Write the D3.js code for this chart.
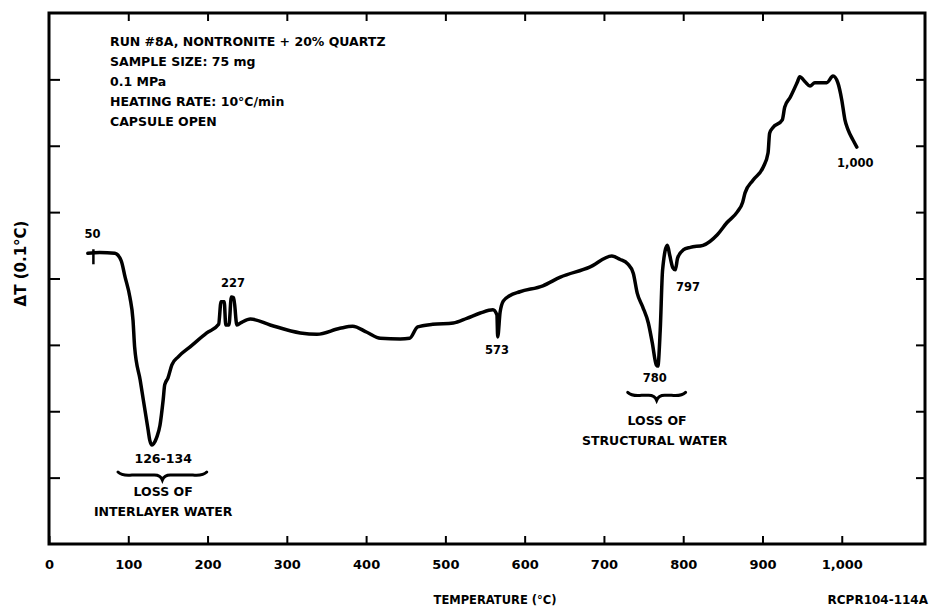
<!DOCTYPE html>
<html>
<head>
<meta charset="utf-8">
<script src="https://cdn.jsdelivr.net/npm/d3@7"></script>
<style>
  body { margin: 0; background: #fff; }
  svg text { font-family: "DejaVu Sans", "Liberation Sans", Arial, sans-serif; font-weight: bold; fill: #000; }
</style>
</head>
<body>
<div id="chart"></div>
<script>
// DTA trace, temperature (°C) vs ΔT in tick units (ticks unlabeled)
const temps = [49, 64, 83, 91, 96, 102, 106, 108, 115, 119, 125, 127, 130, 132, 136, 140, 144, 146, 150, 155,
  163, 178, 199, 214, 217, 221, 223, 227, 230, 233, 237, 243, 254, 279, 317, 338, 367, 383, 401, 418,
  443, 455, 465, 484, 510, 527, 544, 560, 565, 566, 569, 573, 581, 594, 623, 645, 682, 710, 720, 730,
  737, 742, 749, 756, 761, 766, 768, 771, 774, 780, 783, 787, 790, 793, 800, 809, 825, 843, 855, 868,
  875, 878, 888, 901, 907, 909, 913, 925, 928, 935, 944, 947, 954, 960, 966, 981, 989, 995, 1000, 1004,
  1008, 1014, 1019];
const deltaT = [4.38, 4.39, 4.38, 4.27, 4.02, 3.72, 3.37, 2.97, 2.47, 2.17, 1.72, 1.57, 1.49, 1.51, 1.61, 1.79, 2.17, 2.40, 2.50, 2.70,
  2.82, 2.97, 3.18, 3.31, 3.65, 3.65, 3.30, 3.30, 3.72, 3.71, 3.30, 3.34, 3.39, 3.30, 3.18, 3.16, 3.25, 3.28, 3.19, 3.10,
  3.09, 3.10, 3.27, 3.31, 3.33, 3.40, 3.48, 3.53, 3.45, 3.12, 3.49, 3.66, 3.74, 3.80, 3.89, 4.02, 4.17, 4.34, 4.29, 4.22,
  4.08, 3.78, 3.57, 3.33, 3.03, 2.70, 2.68, 3.22, 4.13, 4.50, 4.35, 4.16, 4.13, 4.31, 4.43, 4.47, 4.50, 4.66, 4.84, 5.00,
  5.15, 5.29, 5.48, 5.68, 5.89, 6.19, 6.27, 6.39, 6.58, 6.73, 6.96, 7.04, 6.96, 6.90, 6.95, 6.95, 7.05, 6.95, 6.69, 6.39,
  6.24, 6.09, 5.98];

const xTicks = [0, 100, 200, 300, 400, 500, 600, 700, 800, 900, 1000];
const yTicks = [1, 2, 3, 4, 5, 6, 7];

const infoLines = ["RUN #8A, NONTRONITE + 20% QUARTZ", "SAMPLE SIZE: 75 mg", "0.1 MPa",
  "HEATING RATE: 10°C/min", "CAPSULE OPEN"];

// peak labels: [temp, deltaT, text]
const peakLabels = [[55, 4.66, "50"], [232, 3.93, "227"], [565, 2.92, "573"],
  [764, 2.49, "780"], [806, 3.87, "797"], [1017, 5.74, "1,000"]];
const braceLabels = [[144, 1.27, "126-134"], [144, 0.77, "LOSS OF"], [144, 0.47, "INTERLAYER WATER"],
  [767, 1.84, "LOSS OF"], [764, 1.55, "STRUCTURAL WATER"]];
// braces: [tStart, tEnd, deltaT]
const braces = [[87, 199, 1.04], [730, 803, 2.24]];
const startMark = [56, 4.38];

const width = 931, height = 611;
const margin = {top: 13, right: 6, bottom: 67, left: 49};

const svg = d3.select("#chart").append("svg")
  .attr("width", width).attr("height", height);

const x = d3.scaleLinear().domain([0, 1105]).range([margin.left, width - margin.right]);
const y = d3.scaleLinear().domain([0, 8]).range([height - margin.bottom, margin.top]);

// axes, ticks point inward
svg.append("g").attr("transform", `translate(0,${y(0)})`)
  .call(d3.axisBottom(x).tickValues(xTicks).tickFormat(d3.format(",")).tickSize(-8).tickSizeOuter(0).tickPadding(16))
  .call(g => g.selectAll("text").style("font-size", "13px"));
svg.append("g").attr("transform", `translate(0,${y(8)})`)
  .call(d3.axisTop(x).tickValues(xTicks.slice(1)).tickFormat("").tickSize(-8).tickSizeOuter(0));
svg.append("g").attr("transform", `translate(${x(0)},0)`)
  .call(d3.axisLeft(y).tickValues(yTicks).tickFormat("").tickSize(-11).tickSizeOuter(0));
svg.append("g").attr("transform", `translate(${x(1105)},0)`)
  .call(d3.axisRight(y).tickValues(yTicks).tickFormat("").tickSize(-9).tickSizeOuter(0));
svg.selectAll(".domain").remove();
svg.selectAll(".tick line").attr("stroke", "#000").attr("stroke-width", 2);

svg.append("rect")
  .attr("x", x(0)).attr("y", y(8))
  .attr("width", x(1105) - x(0)).attr("height", y(0) - y(8))
  .attr("fill", "none").attr("stroke", "#000").attr("stroke-width", 3);

// trace
const pts = temps.map((t, i) => [t, deltaT[i]]);
svg.append("path").datum(pts)
  .attr("fill", "none").attr("stroke", "#000").attr("stroke-width", 3.5)
  .attr("stroke-linejoin", "round").attr("stroke-linecap", "round")
  .attr("d", d3.line().x(d => x(d[0])).y(d => y(d[1])).curve(d3.curveMonotoneX));

svg.append("line")
  .attr("x1", x(startMark[0])).attr("x2", x(startMark[0]))
  .attr("y1", y(startMark[1]) - 4).attr("y2", y(startMark[1]) + 11)
  .attr("stroke", "#000").attr("stroke-width", 2.5);

// labels
svg.selectAll(".peak").data(peakLabels).enter().append("text")
  .attr("x", d => x(d[0])).attr("y", d => y(d[1]))
  .attr("text-anchor", "middle").attr("dominant-baseline", "middle")
  .style("font-size", "11.5px").text(d => d[2]);

svg.selectAll(".blab").data(braceLabels).enter().append("text")
  .attr("x", d => x(d[0])).attr("y", d => y(d[1]))
  .attr("text-anchor", "middle").attr("dominant-baseline", "middle")
  .style("font-size", "12.5px").text(d => d[2]);

function bracePath(x1, x2, yy) {
  const m = (x1 + x2) / 2, h = 5;
  return `M${x1},${yy - 3} Q${x1 + 4},${yy + 1} ${x1 + 14},${yy} L${m - 8},${yy} Q${m - 2},${yy} ${m},${yy + h}` +
    ` Q${m + 2},${yy} ${m + 8},${yy} L${x2 - 14},${yy} Q${x2 - 4},${yy + 1} ${x2},${yy - 3}`;
}
svg.selectAll(".brace").data(braces).enter().append("path")
  .attr("d", d => bracePath(x(d[0]), x(d[1]), y(d[2])))
  .attr("fill", "none").attr("stroke", "#000").attr("stroke-width", 3).attr("stroke-linecap", "round");

svg.selectAll(".info").data(infoLines).enter().append("text")
  .attr("x", 110).attr("y", (d, i) => 42 + i * 20.2)
  .attr("dominant-baseline", "middle")
  .style("font-size", "12.5px").text(d => d);

svg.append("text")
  .attr("transform", `translate(21,${(y(0) + y(8)) / 2 - 15}) rotate(-90)`)
  .attr("text-anchor", "middle").attr("dominant-baseline", "middle")
  .style("font-size", "15px").text("ΔT (0.1°C)");

svg.append("text").attr("x", 495).attr("y", 600)
  .attr("text-anchor", "middle").attr("dominant-baseline", "middle")
  .style("font-size", "11.5px").text("TEMPERATURE (°C)");

svg.append("text").attr("x", 928).attr("y", 600)
  .attr("text-anchor", "end").attr("dominant-baseline", "middle")
  .style("font-size", "12px").text("RCPR104-114A");
</script>
</body>
</html>
